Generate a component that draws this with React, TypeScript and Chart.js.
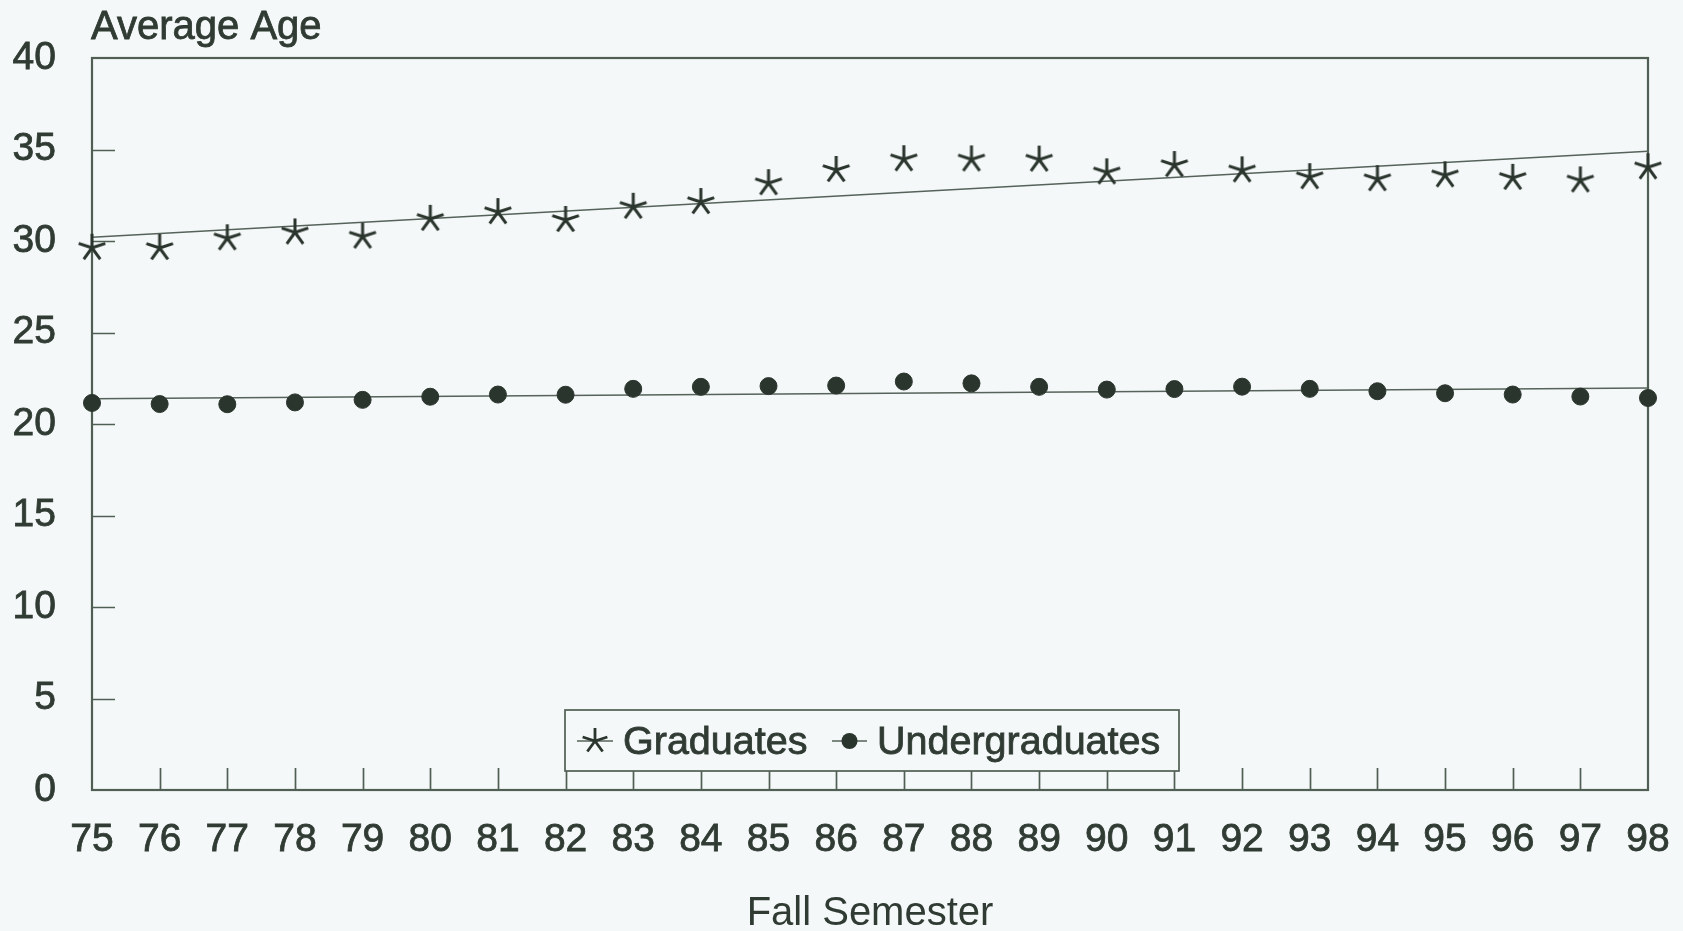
import React, { useEffect, useRef } from "react";
import { Chart, registerables } from "chart.js";

Chart.register(...registerables);

// ---- data ----
const years = ["75", "76", "77", "78", "79", "80", "81", "82", "83", "84", "85", "86", "87", "88", "89", "90", "91", "92", "93", "94", "95", "96", "97", "98"];
const graduates = [29.63, 29.62, 30.15, 30.47, 30.24, 31.21, 31.58, 31.15, 31.87, 32.13, 33.16, 33.88, 34.47, 34.46, 34.45, 33.75, 34.15, 33.86, 33.49, 33.38, 33.59, 33.45, 33.31, 34.03];
const undergraduates = [21.15, 21.09, 21.08, 21.18, 21.32, 21.49, 21.61, 21.6, 21.92, 22.03, 22.07, 22.1, 22.32, 22.22, 22.03, 21.88, 21.91, 22.04, 21.92, 21.79, 21.68, 21.61, 21.5, 21.42];
const trendYears = ["75", "98"];
const graduatesTrend = [30.2, 34.9];
const undergraduatesTrend = [21.38, 21.97];
const yMin = 0;
const yMax = 40;
const yStep = 5;

const seriesLabels = ["Graduates", "Undergraduates"];
const yAxisTitle = "Average Age";
const xAxisTitle = "Fall Semester";

// ---- styling ----
const BG = "#f5f8f9";
const INK = "#2f3b33";
const DOT = "#2a352d";
const FRAME = "#4f5f53";
const TREND = "#55635a";
const FONT = "'Liberation Sans', Arial, Helvetica, sans-serif";

function makeStar(size: number, color: string, lw: number): HTMLCanvasElement {
  const c = document.createElement("canvas");
  c.width = size;
  c.height = size;
  const ctx = c.getContext("2d")!;
  ctx.strokeStyle = color;
  ctx.lineWidth = lw;
  ctx.lineCap = "butt";
  const r = size / 2 - 1;
  const cx = size / 2;
  const cy = size / 2;
  ctx.beginPath();
  for (let k = 0; k < 5; k++) {
    const a = -Math.PI / 2 + (k * 2 * Math.PI) / 5;
    ctx.moveTo(cx, cy);
    ctx.lineTo(cx + r * Math.cos(a), cy + r * Math.sin(a));
  }
  ctx.stroke();
  return c;
}

export default function App() {
  const ref = useRef<HTMLCanvasElement | null>(null);

  useEffect(() => {
    if (!ref.current) return;
    const star = makeStar(30, DOT, 3);
    const legendStar = makeStar(28, DOT, 2.8);

    const framePlugin = {
      id: "frame",
      beforeDatasetsDraw(chart: any) {
        const { ctx, chartArea } = chart;
        const { left, right, top, bottom } = chartArea;
        const xs = chart.scales.x;
        const ys = chart.scales.y;
        ctx.save();
        ctx.strokeStyle = FRAME;
        ctx.lineWidth = 1.7;
        ctx.beginPath();
        for (let i = 1; i < years.length - 1; i++) {
          const px = Math.round(xs.getPixelForTick(i)) + 0.5;
          ctx.moveTo(px, bottom);
          ctx.lineTo(px, bottom - 22);
        }
        for (let v = yMin + yStep; v < yMax; v += yStep) {
          const py = Math.round(ys.getPixelForValue(v)) + 0.5;
          ctx.moveTo(left, py);
          ctx.lineTo(left + 23, py);
        }
        ctx.stroke();
        ctx.lineWidth = 2.2;
        ctx.strokeRect(left, top, right - left, bottom - top);
        ctx.restore();
      },
      afterDraw(chart: any) {
        const { ctx, chartArea } = chart;
        ctx.save();
        ctx.fillStyle = INK;
        ctx.strokeStyle = INK;
        ctx.lineWidth = 0.8;
        ctx.font = `40px ${FONT}`;
        ctx.textAlign = "left";
        ctx.textBaseline = "alphabetic";
        ctx.strokeText(yAxisTitle, chartArea.left - 1, 39);
        ctx.fillText(yAxisTitle, chartArea.left - 1, 39);

        // legend
        const bx = 565, by = 710, bw = 614, bh = 61;
        ctx.fillStyle = BG;
        ctx.fillRect(bx, by, bw, bh);
        ctx.strokeStyle = FRAME;
        ctx.lineWidth = 1.7;
        ctx.strokeRect(bx, by, bw, bh);
        const cy = 741;
        ctx.lineWidth = 1.6;
        ctx.strokeStyle = TREND;
        ctx.beginPath();
        ctx.moveTo(577, cy);
        ctx.lineTo(613, cy);
        ctx.moveTo(832, cy);
        ctx.lineTo(867, cy);
        ctx.stroke();
        ctx.drawImage(legendStar, 595 - 14, cy - 14);
        ctx.fillStyle = DOT;
        ctx.beginPath();
        ctx.arc(849.5, cy, 8, 0, Math.PI * 2);
        ctx.fill();
        ctx.fillStyle = INK;
        ctx.strokeStyle = INK;
        ctx.lineWidth = 0.8;
        ctx.font = `39.5px ${FONT}`;
        ctx.textBaseline = "middle";
        ctx.strokeText(seriesLabels[0], 623, cy + 2);
        ctx.fillText(seriesLabels[0], 623, cy + 2);
        ctx.strokeText(seriesLabels[1], 877, cy + 2);
        ctx.fillText(seriesLabels[1], 877, cy + 2);
        ctx.restore();
      },
    };

    const chart = new Chart(ref.current, {
      type: "line",
      data: {
        labels: years,
        datasets: [
          {
            label: seriesLabels[0],
            data: graduates,
            showLine: false,
            pointStyle: star as any,
            pointRadius: 15,
            borderColor: DOT,
            backgroundColor: DOT,
          },
          {
            label: seriesLabels[1],
            data: undergraduates,
            showLine: false,
            pointStyle: "circle",
            pointRadius: 8.5,
            pointBorderWidth: 1,
            borderColor: DOT,
            backgroundColor: DOT,
          },
          {
            label: "Graduates trend",
            data: trendYears.map((x, i) => ({ x, y: graduatesTrend[i] })) as any,
            borderColor: TREND,
            borderWidth: 1.5,
            pointRadius: 0,
            fill: false,
          },
          {
            label: "Undergraduates trend",
            data: trendYears.map((x, i) => ({ x, y: undergraduatesTrend[i] })) as any,
            borderColor: TREND,
            borderWidth: 1.5,
            pointRadius: 0,
            fill: false,
          },
        ],
      },
      options: {
        animation: false,
        responsive: false,
        maintainAspectRatio: false,
        layout: { padding: { top: 58, right: 35, left: 0, bottom: 0 } },
        plugins: {
          legend: { display: false },
          tooltip: { enabled: false },
          title: { display: false },
        },
        scales: {
          x: {
            type: "category",
            offset: false,
            grid: { display: false },
            border: { display: false },
            ticks: {
              color: INK,
              font: { family: FONT, size: 39, lineHeight: 1.56 },
              padding: 12,
              maxRotation: 0,
              autoSkip: false,
              textStrokeColor: INK,
              textStrokeWidth: 0.8,
            } as any,
            title: {
              display: true,
              text: xAxisTitle,
              color: INK,
              font: { family: FONT, size: 40, lineHeight: 1 },
              padding: { top: 0, bottom: -3 },
            },
            afterFit: (s: any) => {
              s.height = 931 - 790;
            },
          },
          y: {
            min: yMin,
            max: yMax,
            grid: { display: false },
            border: { display: false },
            ticks: {
              stepSize: yStep,
              color: INK,
              font: { family: FONT, size: 39 },
              padding: 28,
              textStrokeColor: INK,
              textStrokeWidth: 0.8,
            } as any,
            afterFit: (s: any) => {
              s.width = 92;
            },
          },
        },
      },
      plugins: [framePlugin],
    });

    return () => chart.destroy();
  }, []);

  return (
    <div
      style={{
        position: "fixed",
        left: 0,
        top: 0,
        width: 1683,
        height: 931,
        background: BG,
      }}
    >
      <canvas ref={ref} width={1683} height={931} style={{ display: "block" }} />
    </div>
  );
}
